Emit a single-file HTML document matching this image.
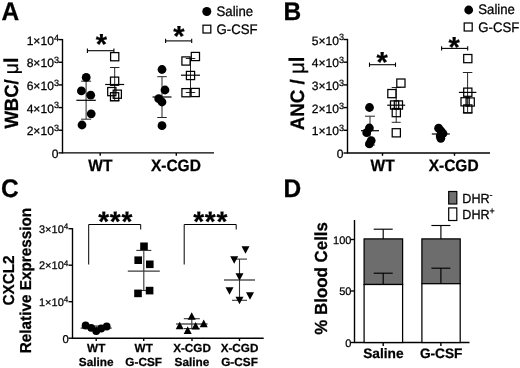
<!DOCTYPE html>
<html><head><meta charset="utf-8"><title>Figure</title>
<style>
html,body{margin:0;padding:0;background:#fff;}
body{width:520px;height:368px;overflow:hidden;position:relative;font-family:"Liberation Sans",sans-serif;}
svg{position:absolute;left:0;top:0;display:block;filter:blur(0.35px)}
text{font-family:"Liberation Sans",sans-serif;fill:#000;stroke:#000;stroke-width:0.25px;text-rendering:geometricPrecision}
.b{font-weight:bold}
.ax{stroke:#000;stroke-width:1.4;fill:none;stroke-linecap:butt}
.eb{stroke:#262626;stroke-width:1;fill:none}
.mn{stroke:#000;stroke-width:1.2;fill:none}
.ebc{stroke:#333;stroke-width:1.1;fill:none}
.mnc{stroke:#3a3a3a;stroke-width:1.3;fill:none}
.sq{fill:none;stroke:#000;stroke-width:1.25}
</style></head><body>
<svg width="520" height="368" viewBox="0 0 520 368">
<rect width="520" height="368" fill="#fff"/>

<text transform="translate(1.4 19.8) scale(1 1.04)" font-size="24.5" text-anchor="start" class="b" >A</text>
<text transform="translate(283.5 19.7) scale(1 1.04)" font-size="24.5" text-anchor="start" class="b" >B</text>
<text transform="translate(0.9 197.0) scale(1 1.04)" font-size="24.5" text-anchor="start" class="b" >C</text>
<text transform="translate(283.5 196.9) scale(1 1.04)" font-size="24.5" text-anchor="start" class="b" >D</text>
<line class="ax" x1="62.5" y1="39.0" x2="62.5" y2="153.5" />
<line class="ax" x1="62.5" y1="152.9" x2="214" y2="152.9" />
<line class="ax" x1="58.5" y1="152.9" x2="62.5" y2="152.9" />
<text x="58.4" y="158.0" font-size="12.1" text-anchor="end" >0</text>
<line class="ax" x1="58.5" y1="130.24" x2="62.5" y2="130.24" />
<text x="58.9" y="135.24" font-size="12.1" text-anchor="end">2×10<tspan font-size="9.0" dy="-4.1">3</tspan></text>
<line class="ax" x1="58.5" y1="107.58" x2="62.5" y2="107.58" />
<text x="58.9" y="112.58" font-size="12.1" text-anchor="end">4×10<tspan font-size="9.0" dy="-4.1">3</tspan></text>
<line class="ax" x1="58.5" y1="84.92" x2="62.5" y2="84.92" />
<text x="58.9" y="89.92" font-size="12.1" text-anchor="end">6×10<tspan font-size="9.0" dy="-4.1">3</tspan></text>
<line class="ax" x1="58.5" y1="62.25999999999999" x2="62.5" y2="62.25999999999999" />
<text x="58.9" y="67.25999999999999" font-size="12.1" text-anchor="end">8×10<tspan font-size="9.0" dy="-4.1">3</tspan></text>
<line class="ax" x1="58.5" y1="39.60000000000001" x2="62.5" y2="39.60000000000001" />
<text x="58.9" y="44.60000000000001" font-size="12.1" text-anchor="end">1×10<tspan font-size="9.0" dy="-4.1">4</tspan></text>
<line class="ax" x1="100.2" y1="152.9" x2="100.2" y2="155.70000000000002" />
<line class="ax" x1="176.3" y1="152.9" x2="176.3" y2="155.70000000000002" />
<text transform="translate(100.4 171.2) scale(1 1.06)" font-size="15.5" text-anchor="middle" class="b" >WT</text>
<text transform="translate(175.9 171.2) scale(1 1.06)" font-size="15.5" text-anchor="middle" class="b" >X-CGD</text>
<text transform="translate(17.8 128.6) rotate(-90) scale(1 1.035)" font-size="18.5" text-anchor="start" class="b" >WBC/ <tspan font-weight="normal" font-size="19.5">μ</tspan><tspan font-size="19.5">l</tspan></text>
<line class="eb" x1="86.1" y1="81.2" x2="86.1" y2="119.2" />
<line class="eb" x1="81.1" y1="81.2" x2="91.1" y2="81.2" />
<line class="eb" x1="81.1" y1="119.2" x2="91.1" y2="119.2" />
<line class="mn" x1="76.35" y1="100.3" x2="95.85" y2="100.3" />
<circle cx="86.2" cy="77.4" r="4.4" fill="#000"/>
<circle cx="81.4" cy="90.9" r="4.4" fill="#000"/>
<circle cx="90.7" cy="95.2" r="4.4" fill="#000"/>
<circle cx="91.2" cy="113.8" r="4.4" fill="#000"/>
<circle cx="82" cy="125" r="4.4" fill="#000"/>
<line class="eb" x1="114.7" y1="67.5" x2="114.7" y2="100.5" />
<line class="eb" x1="109.95" y1="67.5" x2="119.45" y2="67.5" />
<line class="eb" x1="109.95" y1="100.5" x2="119.45" y2="100.5" />
<line class="mn" x1="105.2" y1="84.5" x2="124.2" y2="84.5" />
<rect class="sq" x="110.60000000000001" y="52.6" width="8.2" height="8.2"/>
<rect class="sq" x="110.5" y="77.10000000000001" width="8.2" height="8.2"/>
<rect class="sq" x="107.7" y="87.5" width="8.2" height="8.2"/>
<rect class="sq" x="113.2" y="90.10000000000001" width="8.2" height="8.2"/>
<rect class="sq" x="110.5" y="92.7" width="8.2" height="8.2"/>
<line class="eb" x1="162" y1="76.7" x2="162" y2="117.5" />
<line class="eb" x1="157.25" y1="76.7" x2="166.75" y2="76.7" />
<line class="eb" x1="157.25" y1="117.5" x2="166.75" y2="117.5" />
<line class="mn" x1="152.5" y1="97" x2="171.5" y2="97" />
<circle cx="162" cy="69.5" r="4.4" fill="#000"/>
<circle cx="165" cy="90" r="4.4" fill="#000"/>
<circle cx="158.7" cy="98.7" r="4.4" fill="#000"/>
<circle cx="162" cy="102" r="4.4" fill="#000"/>
<circle cx="162" cy="125.7" r="4.4" fill="#000"/>
<line class="eb" x1="190.5" y1="58.5" x2="190.5" y2="92.5" />
<line class="eb" x1="185.75" y1="58.5" x2="195.25" y2="58.5" />
<line class="eb" x1="185.75" y1="92.5" x2="195.25" y2="92.5" />
<line class="mn" x1="181.0" y1="75.2" x2="200.0" y2="75.2" />
<rect class="sq" x="191.3" y="52.4" width="8.2" height="8.2"/>
<rect class="sq" x="181.9" y="56.9" width="8.2" height="8.2"/>
<rect class="sq" x="186.4" y="71.4" width="8.2" height="8.2"/>
<rect class="sq" x="181.9" y="88.60000000000001" width="8.2" height="8.2"/>
<rect class="sq" x="191.1" y="88.4" width="8.2" height="8.2"/>
<line class="ax" x1="87.4" y1="50.7" x2="113.9" y2="50.7" style="stroke-width:1.1"/>
<line class="ax" x1="87.4" y1="48.5" x2="87.4" y2="52.900000000000006" style="stroke-width:1.1"/>
<line class="ax" x1="113.9" y1="48.5" x2="113.9" y2="52.900000000000006" style="stroke-width:1.1"/>
<text x="101.5" y="54.19" font-size="29" text-anchor="middle" class="b" >*</text>
<line class="ax" x1="165.6" y1="40.9" x2="191.7" y2="40.9" style="stroke-width:1.1"/>
<line class="ax" x1="165.6" y1="38.699999999999996" x2="165.6" y2="43.1" style="stroke-width:1.1"/>
<line class="ax" x1="191.7" y1="38.699999999999996" x2="191.7" y2="43.1" style="stroke-width:1.1"/>
<text x="178.9" y="45.99" font-size="29" text-anchor="middle" class="b" >*</text>
<circle cx="206.8" cy="11.5" r="4.5" fill="#000"/>
<text transform="translate(216.5 16) scale(1 1.05)" font-size="13.2" text-anchor="start" >Saline</text>
<rect class="sq" x="203.0" y="25.200000000000003" width="7.8" height="7.8"/>
<text transform="translate(216.5 33.7) scale(1 1.05)" font-size="13.2" text-anchor="start" >G-CSF</text>
<line class="ax" x1="347.5" y1="38.9" x2="347.5" y2="153.6" />
<line class="ax" x1="347.5" y1="153" x2="490" y2="153" />
<line class="ax" x1="343.5" y1="153.0" x2="347.5" y2="153.0" />
<text x="343.4" y="158.1" font-size="12.1" text-anchor="end" >0</text>
<line class="ax" x1="343.5" y1="130.3" x2="347.5" y2="130.3" />
<text x="344.1" y="135.3" font-size="12.1" text-anchor="end">1×10<tspan font-size="9.0" dy="-4.1">3</tspan></text>
<line class="ax" x1="343.5" y1="107.6" x2="347.5" y2="107.6" />
<text x="344.1" y="112.6" font-size="12.1" text-anchor="end">2×10<tspan font-size="9.0" dy="-4.1">3</tspan></text>
<line class="ax" x1="343.5" y1="84.9" x2="347.5" y2="84.9" />
<text x="344.1" y="89.9" font-size="12.1" text-anchor="end">3×10<tspan font-size="9.0" dy="-4.1">3</tspan></text>
<line class="ax" x1="343.5" y1="62.2" x2="347.5" y2="62.2" />
<text x="344.1" y="67.2" font-size="12.1" text-anchor="end">4×10<tspan font-size="9.0" dy="-4.1">3</tspan></text>
<line class="ax" x1="343.5" y1="39.5" x2="347.5" y2="39.5" />
<text x="344.1" y="44.5" font-size="12.1" text-anchor="end">5×10<tspan font-size="9.0" dy="-4.1">3</tspan></text>
<line class="ax" x1="382.5" y1="153" x2="382.5" y2="155.8" />
<line class="ax" x1="454.5" y1="153" x2="454.5" y2="155.8" />
<text transform="translate(382.6 171.4) scale(1 1.06)" font-size="15.5" text-anchor="middle" class="b" >WT</text>
<text transform="translate(453.6 171.4) scale(1 1.06)" font-size="15.5" text-anchor="middle" class="b" >X-CGD</text>
<text transform="translate(304.3 130.3) rotate(-90) scale(1 1.035)" font-size="18.8" text-anchor="start" class="b" >ANC / <tspan font-weight="normal" font-size="20.5">μ</tspan><tspan font-size="20.5">l</tspan></text>
<line class="eb" x1="370" y1="116.2" x2="370" y2="145" />
<line class="eb" x1="365.0" y1="116.2" x2="375.0" y2="116.2" />
<line class="eb" x1="365.0" y1="145" x2="375.0" y2="145" />
<line class="mn" x1="361.0" y1="130.7" x2="379.0" y2="130.7" />
<circle cx="369.5" cy="107.5" r="4.4" fill="#000"/>
<circle cx="369.4" cy="128" r="4.4" fill="#000"/>
<circle cx="366.7" cy="132.7" r="4.4" fill="#000"/>
<circle cx="371.2" cy="140.6" r="4.4" fill="#000"/>
<circle cx="369.4" cy="143.9" r="4.4" fill="#000"/>
<line class="eb" x1="396.2" y1="87.5" x2="396.2" y2="122.3" />
<line class="eb" x1="391.7" y1="87.5" x2="400.7" y2="87.5" />
<line class="eb" x1="391.7" y1="122.3" x2="400.7" y2="122.3" />
<line class="mn" x1="387.2" y1="105.2" x2="405.2" y2="105.2" />
<rect class="sq" x="396.79999999999995" y="79.0" width="8.2" height="8.2"/>
<rect class="sq" x="387.79999999999995" y="89.5" width="8.2" height="8.2"/>
<rect class="sq" x="390.5" y="100.9" width="8.2" height="8.2"/>
<rect class="sq" x="394.29999999999995" y="100.9" width="8.2" height="8.2"/>
<rect class="sq" x="392.2" y="108.5" width="8.2" height="8.2"/>
<rect class="sq" x="392.2" y="128.70000000000002" width="8.2" height="8.2"/>
<line class="eb" x1="440.8" y1="131" x2="440.8" y2="137" />
<line class="eb" x1="437.8" y1="131" x2="443.8" y2="131" />
<line class="eb" x1="437.8" y1="137" x2="443.8" y2="137" />
<line class="mn" x1="431.8" y1="134" x2="449.8" y2="134" />
<circle cx="438.6" cy="128.2" r="4.4" fill="#000"/>
<circle cx="441" cy="131" r="4.4" fill="#000"/>
<circle cx="443" cy="133.5" r="4.4" fill="#000"/>
<circle cx="440.2" cy="136" r="4.4" fill="#000"/>
<circle cx="440.8" cy="138.3" r="4.4" fill="#000"/>
<line class="eb" x1="467.6" y1="72.5" x2="467.6" y2="112.5" />
<line class="eb" x1="462.85" y1="72.5" x2="472.35" y2="72.5" />
<line class="eb" x1="462.85" y1="112.5" x2="472.35" y2="112.5" />
<line class="mn" x1="458.85" y1="92.4" x2="476.35" y2="92.4" />
<rect class="sq" x="463.7" y="54.5" width="8.2" height="8.2"/>
<rect class="sq" x="463.7" y="88.10000000000001" width="8.2" height="8.2"/>
<rect class="sq" x="461.0" y="97.7" width="8.2" height="8.2"/>
<rect class="sq" x="466.09999999999997" y="97.9" width="8.2" height="8.2"/>
<rect class="sq" x="463.7" y="104.9" width="8.2" height="8.2"/>
<line class="ax" x1="369.5" y1="64.7" x2="395.5" y2="64.7" style="stroke-width:1.1"/>
<line class="ax" x1="369.5" y1="62.5" x2="369.5" y2="66.9" style="stroke-width:1.1"/>
<line class="ax" x1="395.5" y1="62.5" x2="395.5" y2="66.9" style="stroke-width:1.1"/>
<text x="382.1" y="72.29" font-size="29" text-anchor="middle" class="b" >*</text>
<line class="ax" x1="441.6" y1="48.4" x2="467.7" y2="48.4" style="stroke-width:1.1"/>
<line class="ax" x1="441.6" y1="46.199999999999996" x2="441.6" y2="50.6" style="stroke-width:1.1"/>
<line class="ax" x1="467.7" y1="46.199999999999996" x2="467.7" y2="50.6" style="stroke-width:1.1"/>
<text x="454.1" y="56.79" font-size="29" text-anchor="middle" class="b" >*</text>
<circle cx="468.7" cy="10" r="4.4" fill="#000"/>
<text transform="translate(478.3 14.2) scale(1 1.05)" font-size="13.2" text-anchor="start" >Saline</text>
<rect class="sq" x="464.2" y="23.0" width="8" height="8"/>
<text transform="translate(478.3 31.8) scale(1 1.05)" font-size="13.2" text-anchor="start" >G-CSF</text>
<line class="ax" x1="72.5" y1="228.1" x2="72.5" y2="338.8" />
<line class="ax" x1="72.5" y1="338.2" x2="263.7" y2="338.2" />
<line class="ax" x1="68.5" y1="338.2" x2="72.5" y2="338.2" />
<text x="68.8" y="342.59999999999997" font-size="11.3" text-anchor="end" >0</text>
<line class="ax" x1="68.5" y1="301.7" x2="72.5" y2="301.7" />
<text x="68.3" y="305.9" font-size="11" text-anchor="end">1×10<tspan font-size="8.1" dy="-3.7">4</tspan></text>
<line class="ax" x1="68.5" y1="265.2" x2="72.5" y2="265.2" />
<text x="68.3" y="269.4" font-size="11" text-anchor="end">2×10<tspan font-size="8.1" dy="-3.7">4</tspan></text>
<line class="ax" x1="68.5" y1="228.7" x2="72.5" y2="228.7" />
<text x="68.3" y="232.89999999999998" font-size="11" text-anchor="end">3×10<tspan font-size="8.1" dy="-3.7">4</tspan></text>
<line class="ax" x1="96.2" y1="338.2" x2="96.2" y2="341.0" />
<line class="ax" x1="143.7" y1="338.2" x2="143.7" y2="341.0" />
<line class="ax" x1="192" y1="338.2" x2="192" y2="341.0" />
<line class="ax" x1="239.5" y1="338.2" x2="239.5" y2="341.0" />
<text x="96.2" y="352.3" font-size="11.7" text-anchor="middle" class="b" >WT</text>
<text x="96.2" y="365.6" font-size="11.8" text-anchor="middle" class="b" >Saline</text>
<text x="143.7" y="352.3" font-size="11.7" text-anchor="middle" class="b" >WT</text>
<text x="143.7" y="365.6" font-size="11.8" text-anchor="middle" class="b" >G-CSF</text>
<text x="192" y="352.3" font-size="11.7" text-anchor="middle" class="b" >X-CGD</text>
<text x="192" y="365.6" font-size="11.8" text-anchor="middle" class="b" >Saline</text>
<text x="239.5" y="352.3" font-size="11.7" text-anchor="middle" class="b" >X-CGD</text>
<text x="239.5" y="365.6" font-size="11.8" text-anchor="middle" class="b" >G-CSF</text>
<text transform="translate(13.8 280.5) rotate(-90) scale(1 1.035)" font-size="15.3" text-anchor="middle" class="b" >CXCL2</text>
<text transform="translate(31.4 280.5) rotate(-90) scale(1 1.035)" font-size="15.3" text-anchor="middle" class="b" >Relative Expression</text>
<line class="ebc" x1="96.2" y1="326" x2="96.2" y2="330.5" />
<line class="ebc" x1="93.7" y1="326" x2="98.7" y2="326" />
<line class="ebc" x1="93.7" y1="330.5" x2="98.7" y2="330.5" />
<line class="mnc" x1="80.7" y1="328.1" x2="111.7" y2="328.1" />
<circle cx="85.6" cy="325.5" r="3.9" fill="#000"/>
<circle cx="91.2" cy="327.8" r="3.9" fill="#000"/>
<circle cx="96.2" cy="331.1" r="3.9" fill="#000"/>
<circle cx="101.2" cy="328.5" r="3.9" fill="#000"/>
<circle cx="106.7" cy="326.5" r="3.9" fill="#000"/>
<line class="ebc" x1="143.8" y1="250.4" x2="143.8" y2="290.5" />
<line class="ebc" x1="136.3" y1="250.4" x2="151.3" y2="250.4" />
<line class="ebc" x1="136.3" y1="290.5" x2="151.3" y2="290.5" />
<line class="mnc" x1="127.80000000000001" y1="271.2" x2="159.8" y2="271.2" />
<rect x="140.2" y="242.5" width="7.6" height="7.6" fill="#000"/>
<rect x="134.39999999999998" y="256.4" width="7.6" height="7.6" fill="#000"/>
<rect x="146.0" y="260.5" width="7.6" height="7.6" fill="#000"/>
<rect x="145.79999999999998" y="286.8" width="7.6" height="7.6" fill="#000"/>
<rect x="134.2" y="289.59999999999997" width="7.6" height="7.6" fill="#000"/>
<line class="ebc" x1="191.8" y1="318.7" x2="191.8" y2="328.6" />
<line class="ebc" x1="183.8" y1="318.7" x2="199.8" y2="318.7" />
<line class="ebc" x1="183.8" y1="328.6" x2="199.8" y2="328.6" />
<line class="mnc" x1="176.05" y1="324" x2="207.55" y2="324" />
<polygon points="187.7,319.8 195.7,319.8 191.7,312.2" fill="#000"/>
<polygon points="175.7,329.3 183.7,329.3 179.7,321.7" fill="#000"/>
<polygon points="199.7,327.2 207.7,327.2 203.7,319.59999999999997" fill="#000"/>
<polygon points="191.6,329.5 199.6,329.5 195.6,321.9" fill="#000"/>
<polygon points="183.7,333.90000000000003 191.7,333.90000000000003 187.7,326.3" fill="#000"/>
<line class="ebc" x1="239.5" y1="259.1" x2="239.5" y2="300.3" />
<line class="ebc" x1="232.0" y1="259.1" x2="247.0" y2="259.1" />
<line class="ebc" x1="232.0" y1="300.3" x2="247.0" y2="300.3" />
<line class="mnc" x1="224.0" y1="280" x2="255.0" y2="280" />
<polygon points="241.5,246.2 249.5,246.2 245.5,253.8" fill="#000"/>
<polygon points="230.2,256.2 238.2,256.2 234.2,263.8" fill="#000"/>
<polygon points="235.5,273.2 243.5,273.2 239.5,280.8" fill="#000"/>
<polygon points="225.5,287.2 233.5,287.2 229.5,294.8" fill="#000"/>
<polygon points="246.0,292.2 254.0,292.2 250,299.8" fill="#000"/>
<polygon points="235.5,296.7 243.5,296.7 239.5,304.3" fill="#000"/>
<polyline class="ax" style="stroke-width:1" points="88.7,264.5 88.7,224.5 140.7,224.5 140.7,229.5"/>
<polyline class="ax" style="stroke-width:1" points="184.2,264.5 184.2,224.5 236.2,224.5 236.2,229.5"/>
<text x="115.7" y="230.88" font-size="28" text-anchor="middle" class="b" letter-spacing="0.8">***</text>
<text x="210.70000000000002" y="230.88" font-size="28" text-anchor="middle" class="b" letter-spacing="0.8">***</text>
<line class="ax" x1="354.5" y1="220" x2="354.5" y2="343.1" />
<line class="ax" x1="354.5" y1="342.5" x2="469.5" y2="342.5" />
<line class="ax" x1="350.5" y1="342.5" x2="354.5" y2="342.5" />
<text x="351.4" y="346.9" font-size="11" text-anchor="end" >0</text>
<line class="ax" x1="350.5" y1="291" x2="354.5" y2="291" />
<text x="351.4" y="295.4" font-size="11" text-anchor="end" >50</text>
<line class="ax" x1="350.5" y1="239.5" x2="354.5" y2="239.5" />
<text x="351.4" y="243.9" font-size="11" text-anchor="end" >100</text>
<line class="ax" x1="383.2" y1="342.5" x2="383.2" y2="346.0" />
<line class="ax" x1="440.9" y1="342.5" x2="440.9" y2="346.0" />
<text x="383.4" y="358.3" font-size="13.7" text-anchor="middle" class="b" >Saline</text>
<text x="441.2" y="358.3" font-size="13.7" text-anchor="middle" class="b" >G-CSF</text>
<text transform="translate(327 278.4) rotate(-90) scale(1 1.035)" font-size="16.9" text-anchor="middle" class="b" >% Blood Cells</text>
<rect x="364.1" y="238.9" width="38.5" height="45.599999999999994" fill="#6d6d6d" stroke="#000" stroke-width="1.25"/>
<rect x="364.1" y="284.5" width="38.5" height="58.0" fill="#fff" stroke="#000" stroke-width="1.25"/>
<line class="ax" x1="383.2" y1="238.9" x2="383.2" y2="229.2" style="stroke-width:1.15"/>
<line class="ax" x1="373.7" y1="229.2" x2="392.7" y2="229.2" style="stroke-width:1.15"/>
<line class="ax" x1="383.2" y1="284.5" x2="383.2" y2="273.2" style="stroke-width:1.15"/>
<line class="ax" x1="373.7" y1="273.2" x2="392.7" y2="273.2" style="stroke-width:1.15"/>
<rect x="421.9" y="238.9" width="38.30000000000001" height="44.79999999999998" fill="#6d6d6d" stroke="#000" stroke-width="1.25"/>
<rect x="421.9" y="283.7" width="38.30000000000001" height="58.80000000000001" fill="#fff" stroke="#000" stroke-width="1.25"/>
<line class="ax" x1="440.9" y1="238.9" x2="440.9" y2="225.5" style="stroke-width:1.15"/>
<line class="ax" x1="431.4" y1="225.5" x2="450.4" y2="225.5" style="stroke-width:1.15"/>
<line class="ax" x1="440.9" y1="283.7" x2="440.9" y2="268.2" style="stroke-width:1.15"/>
<line class="ax" x1="431.4" y1="268.2" x2="450.4" y2="268.2" style="stroke-width:1.15"/>
<rect x="448.7" y="191.5" width="8.1" height="12.5" fill="#6f6f6f" stroke="#000" stroke-width="1.2"/>
<rect x="448.7" y="207.9" width="8.1" height="12.6" fill="#fff" stroke="#000" stroke-width="1.2"/>
<text transform="translate(462.3 203.3) scale(1 1.05)" font-size="12.6">DHR<tspan font-size="9" dy="-4.8">-</tspan></text>
<text transform="translate(462.3 218.9) scale(1 1.05)" font-size="12.6">DHR<tspan font-size="9" dy="-4.3">+</tspan></text>
</svg></body></html>
